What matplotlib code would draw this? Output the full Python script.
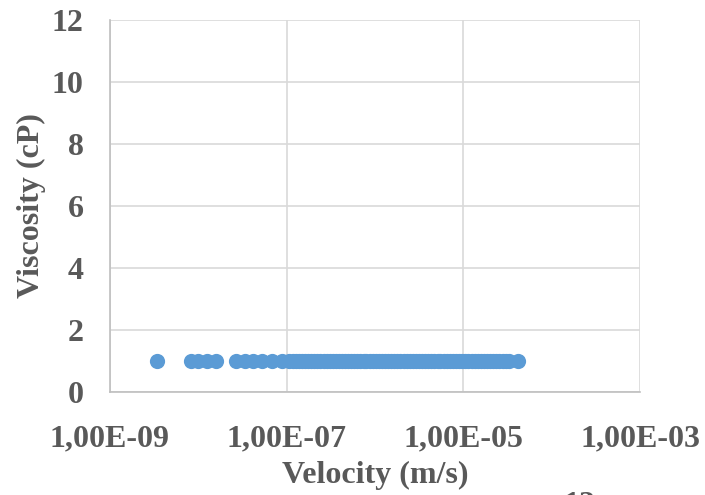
import matplotlib.pyplot as plt
from matplotlib.ticker import FixedLocator, FuncFormatter, NullLocator

excel_blue = '#5b9bd5'
text_grey = '#595959'

# velocity (m/s) and measured viscosity (cP)
velocity = [3.4e-09, 8.3e-09, 1.0e-08, 1.26e-08, 1.6e-08,
            2.7e-08, 3.4e-08, 4.2e-08, 5.2e-08, 6.9e-08, 8.9e-08, 1.05e-07,
            1.17e-07, 1.27e-07, 1.37e-07, 1.49e-07, 1.61e-07, 1.75e-07,
            1.89e-07, 2.05e-07, 2.22e-07, 2.41e-07, 2.61e-07, 2.83e-07,
            3.07e-07, 3.33e-07, 3.6e-07, 3.9e-07, 4.2e-07, 4.6e-07, 5.0e-07,
            5.4e-07, 5.8e-07, 6.3e-07, 6.8e-07, 7.4e-07, 8.0e-07, 8.7e-07,
            9.4e-07, 1.02e-06, 1.10e-06, 1.19e-06, 1.29e-06, 1.40e-06,
            1.52e-06, 1.65e-06, 1.79e-06, 1.94e-06, 2.10e-06, 2.28e-06,
            2.47e-06, 2.68e-06, 2.90e-06, 3.15e-06, 3.41e-06, 3.70e-06,
            4.0e-06, 4.35e-06, 4.7e-06, 5.1e-06, 5.5e-06, 6.0e-06, 6.5e-06,
            7.0e-06, 7.6e-06, 8.3e-06, 9.0e-06, 9.7e-06, 1.05e-05, 1.14e-05,
            1.24e-05, 1.34e-05, 1.45e-05, 1.58e-05, 1.71e-05, 1.85e-05,
            2.01e-05, 2.18e-05, 2.36e-05, 2.56e-05, 2.78e-05, 3.0e-05,
            3.3e-05, 4.1e-05]
viscosity = [1.0] * len(velocity)

x_ticks = [1e-9, 1e-7, 1e-5, 1e-3]
y_ticks = [0, 2, 4, 6, 8, 10, 12]

plt.rcParams['font.family'] = ['Liberation Serif', 'DejaVu Serif']
plt.rcParams['font.weight'] = 'bold'

fig = plt.figure(figsize=(7.05, 4.95), dpi=100)
ax = fig.add_axes([0.156, 0.208, 0.752, 0.752])

ax.scatter(velocity, viscosity, s=120, color=excel_blue, zorder=3, linewidths=0)

ax.set_xscale('log')
ax.set_xlim(1e-9, 1e-3)
ax.set_ylim(0, 12)
ax.xaxis.set_major_locator(FixedLocator(x_ticks))
ax.xaxis.set_minor_locator(NullLocator())
ax.xaxis.set_major_formatter(FuncFormatter(lambda v, p: ('%.2E' % v).replace('.', ',')))
ax.set_yticks(y_ticks)

ax.grid(color='#d9d9d9', linewidth=1.2)
ax.set_axisbelow(True)
for side in ['top', 'right']:
    ax.spines[side].set_visible(False)
for side in ['left', 'bottom']:
    ax.spines[side].set_color('#bfbfbf')
    ax.spines[side].set_linewidth(1.2)

ax.tick_params(length=0, labelsize=23, colors=text_grey)
ax.tick_params(axis='x', pad=23)
ax.tick_params(axis='y', pad=19)
for lbl in ax.get_xticklabels() + ax.get_yticklabels():
    lbl.set_fontweight('bold')

ax.set_xlabel('Velocity (m/s)', fontsize=23, fontweight='bold', color=text_grey, labelpad=6)
ax.set_ylabel('Viscosity (cP)', fontsize=23, fontweight='bold', color=text_grey, labelpad=4)

# top of the next chart's first tick label peeking in at the bottom edge
fig.text(0.822, -0.05, '12', fontsize=23, fontweight='bold', color=text_grey,
         ha='center', va='bottom')

fig.savefig('out.png', dpi=100)
